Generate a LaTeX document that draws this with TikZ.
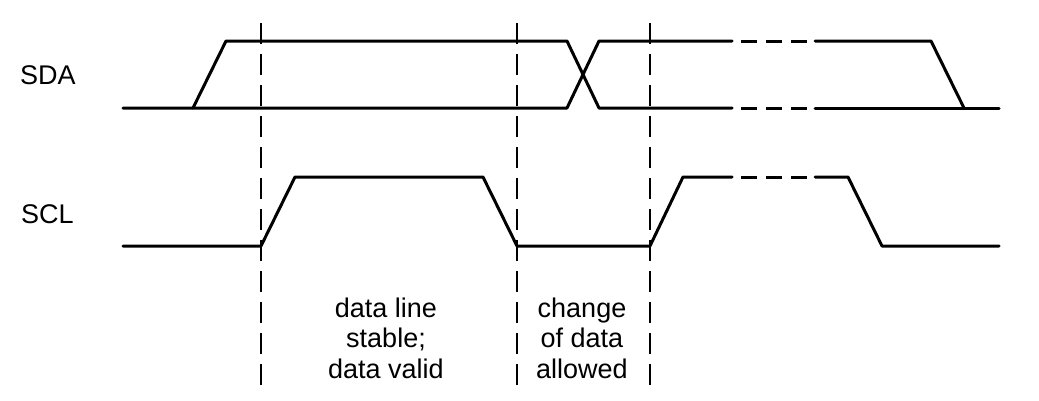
\documentclass[tikz,border=0pt]{standalone}
\usepackage{fontspec}
\setmainfont{Liberation Sans}
\begin{document}
\begin{tikzpicture}[x=1pt,y=-1pt,
  sig/.style={line width=3pt, line join=round, line cap=round},
  sigdash/.style={line width=3pt, dash pattern=on 16pt off 9pt},
  guide/.style={line width=2.2pt, dash pattern=on 21pt off 10pt},
  lbl/.style={font=\fontsize{27}{30}\selectfont, inner sep=0pt}]
\useasboundingbox[fill=white] (0,0) rectangle (1039,400);
% labels
\node[lbl, anchor=base west] (sda) at (20,84) {SDA};
\node[lbl, anchor=base west] (scl) at (21,223) {SCL};
% guide lines
\draw[guide] (261,23) -- (261,386);
\draw[guide] (517,23) -- (517,386);
\draw[guide] (650,23) -- (650,386);
% SDA
\draw[sig] (123,108) -- (567,108) -- (599,41) -- (732,41);
\draw[sig] (193,108) -- (226,41) -- (567,41) -- (599,108) -- (732,108);
\draw[sigdash] (741,41) -- (807,41);
\draw[sigdash] (741,108) -- (807,108);
\draw[sig] (815,41) -- (931,41) -- (964,108);
\draw[sig] (815,108) -- (999,108);
% SCL
\draw[sig] (123,246) -- (261,246) -- (295,177) -- (483,177) -- (517,246) -- (650,246) -- (683,177) -- (732,177);
\draw[sigdash] (741,177) -- (807,177);
\draw[sig] (815,177) -- (848,177) -- (882,246) -- (999,246);
% texts
\node[lbl, anchor=base] (t1) at (386,317) {data line};
\node[lbl, anchor=base] (t2) at (386,347.5) {stable;};
\node[lbl, anchor=base] (t3) at (386,378) {data valid};
\node[lbl, anchor=base] (t4) at (582,317) {change};
\node[lbl, anchor=base] (t5) at (582,347.5) {of data};
\node[lbl, anchor=base] (t6) at (582,378) {allowed};
\end{tikzpicture}
\end{document}
